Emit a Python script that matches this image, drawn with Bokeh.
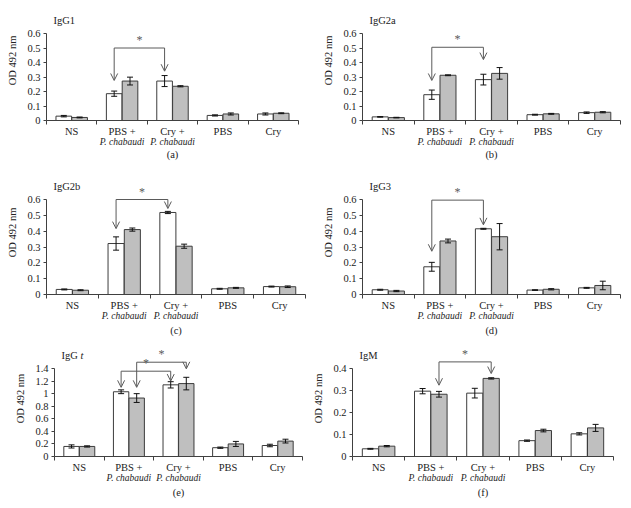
from bokeh.plotting import figure
from bokeh.models import (ColumnDataSource, Whisker, TeeHead, Arrow, OpenHead, Label,
                          LinearAxis, FixedTicker, NumeralTickFormatter, Range1d)
from bokeh.layouts import row, column
from bokeh.embed import file_html
from bokeh.resources import INLINE

# ---------------- data ----------------
categories = ["NS", "PBS +", "Cry +", "PBS", "Cry"]
second_line = ["", "P. chabaudi", "P. chabaudi", "", ""]

igg1_white = [0.030, 0.185, 0.272, 0.035, 0.045]
igg1_white_err = [0.005, 0.018, 0.038, 0.004, 0.007]
igg1_gray = [0.021, 0.272, 0.236, 0.045, 0.050]
igg1_gray_err = [0.003, 0.027, 0.004, 0.007, 0.003]

igg2a_white = [0.025, 0.178, 0.282, 0.040, 0.054]
igg2a_white_err = [0.002, 0.032, 0.037, 0.003, 0.005]
igg2a_gray = [0.020, 0.312, 0.325, 0.046, 0.057]
igg2a_gray_err = [0.002, 0.003, 0.040, 0.003, 0.004]

igg2b_white = [0.032, 0.322, 0.518, 0.036, 0.050]
igg2b_white_err = [0.003, 0.042, 0.007, 0.003, 0.003]
igg2b_gray = [0.027, 0.410, 0.305, 0.042, 0.049]
igg2b_gray_err = [0.003, 0.010, 0.013, 0.003, 0.005]

igg3_white = [0.030, 0.175, 0.415, 0.028, 0.042]
igg3_white_err = [0.003, 0.028, 0.003, 0.002, 0.003]
igg3_gray = [0.022, 0.338, 0.365, 0.033, 0.057]
igg3_gray_err = [0.004, 0.012, 0.083, 0.004, 0.027]

iggt_white = [0.16, 1.03, 1.14, 0.14, 0.175]
iggt_white_err = [0.025, 0.03, 0.05, 0.01, 0.02]
iggt_gray = [0.16, 0.93, 1.16, 0.20, 0.245]
iggt_gray_err = [0.01, 0.07, 0.10, 0.04, 0.03]

igm_white = [0.035, 0.297, 0.288, 0.072, 0.103]
igm_white_err = [0.002, 0.012, 0.022, 0.003, 0.005]
igm_gray = [0.047, 0.283, 0.355, 0.118, 0.130]
igm_gray_err = [0.003, 0.013, 0.003, 0.006, 0.016]

ticks_06 = [0, 0.1, 0.2, 0.3, 0.4, 0.5, 0.6]
ticks_14 = [0, 0.2, 0.4, 0.6, 0.8, 1, 1.2, 1.4]
ticks_04 = [0, 0.1, 0.2, 0.3, 0.4]

# significance brackets: (left group, left series, right group, right series,
#                         bracket level, left tip, right tip)
igg1_brackets = [(1, 0, 2, 0, 0.50, 0.276, 0.34)]
igg2a_brackets = [(1, 0, 2, 0, 0.505, 0.276, 0.42)]
igg2b_brackets = [(1, 0, 2, 0, 0.60, 0.416, 0.543)]
igg3_brackets = [(1, 0, 2, 0, 0.596, 0.273, 0.44)]
iggt_brackets = [(1, 0, 2, 0, 1.357, 1.10, 1.20),
                 (1, 1, 2, 1, 1.50, 1.10, 1.395)]
igm_brackets = [(1, 1, 2, 1, 0.43, 0.324, 0.377)]

# ---------------- style ----------------
FONT = "Liberation Serif"
BAR_LINE = "#3c3c3c"
GRAY = "#bfbfbf"
BRACKET = "#5a5a5a"
AXIS = "#404040"
TXT = "#222222"
BW = 0.31
OFF = 0.157


def make_panel(title, title_italic, white, werr, gray, gerr, y_end, y_ticks,
               brackets, caption, width, height, bl, br, bb, data_top, cap_standoff):
    frame_h = height - bb
    top = y_end * frame_h / (frame_h - data_top)
    p = figure(width=width, height=height,
               min_border_left=bl, min_border_right=br,
               min_border_top=0, min_border_bottom=bb,
               x_range=Range1d(0, 5), y_range=Range1d(0, top),
               x_axis_type=None, output_backend="svg", toolbar_location=None)
    p.outline_line_color = None
    p.grid.visible = False

    # y axis (line limited to the data range)
    ya = p.yaxis[0]
    ya.bounds = (0, y_end)
    ya.ticker = FixedTicker(ticks=y_ticks)
    ya.formatter = NumeralTickFormatter(format="0.[0]")
    ya.axis_line_color = AXIS
    ya.major_tick_line_color = AXIS
    ya.major_tick_out = 3
    ya.major_tick_in = 0
    ya.minor_tick_line_color = None
    ya.major_label_standoff = 3
    ya.major_label_text_font = FONT
    ya.major_label_text_font_size = "10.5px"
    ya.major_label_text_color = TXT
    ya.axis_label = "OD 492 nm"
    ya.axis_label_text_font = FONT
    ya.axis_label_text_font_size = "10.5px"
    ya.axis_label_text_font_style = "normal"
    ya.axis_label_text_color = TXT
    ya.axis_label_standoff = 6

    centers = [i + 0.5 for i in range(len(categories))]

    # x axis: boundary ticks + category labels
    xa = LinearAxis(ticker=FixedTicker(ticks=centers, minor_ticks=list(range(len(categories) + 1))))
    xa.major_label_overrides = {c: t for c, t in zip(centers, categories)}
    xa.axis_line_color = AXIS
    xa.major_tick_line_color = None
    xa.major_tick_out = 0
    xa.major_tick_in = 0
    xa.minor_tick_line_color = AXIS
    xa.minor_tick_out = 4
    xa.minor_tick_in = 0
    xa.major_label_standoff = 1
    xa.major_label_text_font = FONT
    xa.major_label_text_font_size = "10.5px"
    xa.major_label_text_color = TXT
    p.add_layout(xa, "below")

    # second line of the category labels (italic) + caption
    sel = [c for c, t in zip(centers, second_line) if t]
    xa2 = LinearAxis(ticker=FixedTicker(ticks=sel))
    xa2.major_label_overrides = {c: t for c, t in zip(centers, second_line) if t}
    xa2.axis_line_color = None
    xa2.major_tick_line_color = None
    xa2.minor_tick_line_color = None
    xa2.major_tick_out = 0
    xa2.major_tick_in = 0
    xa2.major_label_standoff = -3
    xa2.major_label_text_font = FONT
    xa2.major_label_text_font_size = "9.5px"
    xa2.major_label_text_font_style = "italic"
    xa2.major_label_text_color = TXT
    xa2.axis_label = caption
    xa2.axis_label_text_font = FONT
    xa2.axis_label_text_font_size = "10.5px"
    xa2.axis_label_text_font_style = "normal"
    xa2.axis_label_text_color = TXT
    xa2.axis_label_standoff = cap_standoff
    p.add_layout(xa2, "below")

    # bars + error bars
    for vals, errs, off, fill in ((white, werr, -OFF, "white"), (gray, gerr, OFF, GRAY)):
        xs = [c + off for c in centers]
        src = ColumnDataSource(dict(x=xs, top=vals,
                                    upper=[v + e for v, e in zip(vals, errs)],
                                    lower=[v - e for v, e in zip(vals, errs)]))
        p.vbar(x="x", top="top", width=BW, source=src, fill_color=fill,
               line_color=BAR_LINE, line_width=1)
        p.add_layout(Whisker(source=src, base="x", upper="upper", lower="lower",
                             line_color="#111111", line_width=1, level="overlay",
                             upper_head=TeeHead(size=6, line_color="#111111", line_width=1),
                             lower_head=TeeHead(size=6, line_color="#111111", line_width=1)))

    # significance brackets
    for gl, sl, gr, sr, ytop, tipl, tipr in brackets:
        xl = centers[gl] + (OFF if sl else -OFF)
        xr = centers[gr] + (OFF if sr else -OFF)
        p.add_layout(Arrow(x_start=xl, y_start=ytop, x_end=xr, y_end=ytop, end=None,
                           line_color=BRACKET, line_width=1))
        for xx, tip in ((xl, tipl), (xr, tipr)):
            p.add_layout(Arrow(x_start=xx, y_start=ytop, x_end=xx, y_end=tip,
                               end=OpenHead(size=7, line_color=BRACKET, line_width=1),
                               line_color=BRACKET, line_width=1))
        p.add_layout(Label(x=(xl + xr) / 2, y=ytop, y_offset=1, text="*",
                           text_align="center", text_baseline="bottom",
                           text_font=FONT, text_font_size="12px",
                           text_color=BRACKET))

    # panel title
    p.add_layout(Label(x=0, y=y_end, x_offset=7, y_offset=13, text=title,
                       text_baseline="alphabetic", text_font=FONT,
                       text_font_size="10.5px", text_color=TXT))
    if title_italic:
        p.add_layout(Label(x=0, y=y_end, x_offset=26, y_offset=13, text=title_italic,
                           text_baseline="alphabetic", text_font=FONT,
                           text_font_style="italic",
                           text_font_size="10.5px", text_color=TXT))
    return p


pa = make_panel("IgG1", None, igg1_white, igg1_white_err, igg1_gray, igg1_gray_err,
                0.6, ticks_06, igg1_brackets, "(a)", 320, 170, 46, 22, 50, 33, -1)
pb = make_panel("IgG2a", None, igg2a_white, igg2a_white_err, igg2a_gray, igg2a_gray_err,
                0.6, ticks_06, igg2a_brackets, "(b)", 310, 170, 39, 10, 50, 33, -1)
pc = make_panel("IgG2b", None, igg2b_white, igg2b_white_err, igg2b_gray, igg2b_gray_err,
                0.6, ticks_06, igg2b_brackets, "(c)", 320, 170, 46, 15, 46, 29, 1)
pd = make_panel("IgG3", None, igg3_white, igg3_white_err, igg3_gray, igg3_gray_err,
                0.6, ticks_06, igg3_brackets, "(d)", 310, 170, 39, 10, 46, 29, 1)
pe = make_panel("IgG", "t", iggt_white, iggt_white_err, iggt_gray, iggt_gray_err,
                1.4, ticks_14, iggt_brackets, "(e)", 310, 167, 54, 8, 51, 28, 1)
pf = make_panel("IgM", None, igm_white, igm_white_err, igm_gray, igm_gray_err,
                0.4, ticks_04, igm_brackets, "(f)", 320, 167, 40, 17, 51, 28, 1)

layout = column(row(pa, pb), row(pc, pd), row(pe, pf))

open("out.html", "w").write(file_html(layout, INLINE))
